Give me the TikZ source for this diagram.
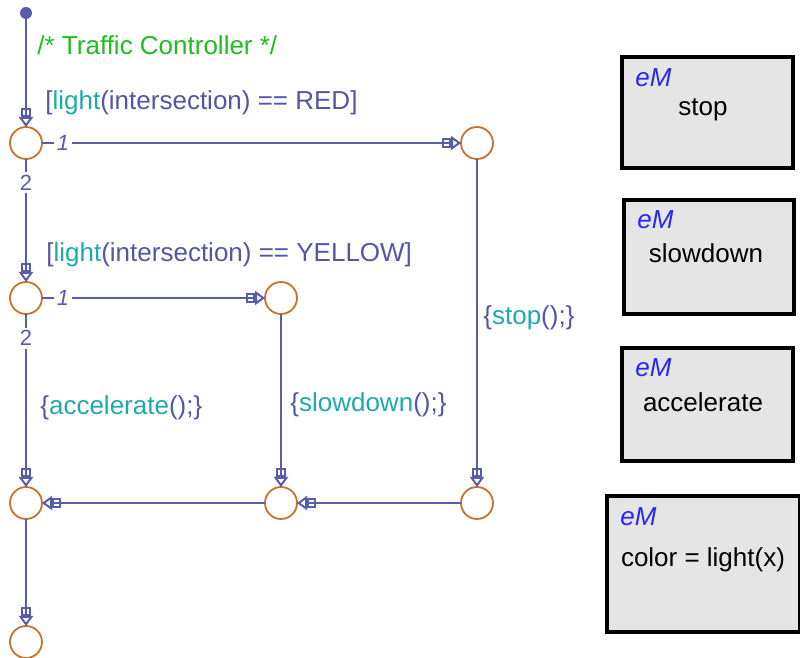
\documentclass[tikz,border=0pt]{standalone}
\usepackage{fontspec}
\setmainfont{Liberation Sans}
\usepackage{xcolor}
\usetikzlibrary{positioning, arrows.meta}

\definecolor{flowline}{RGB}{88,92,170}
\definecolor{juncorange}{RGB}{200,115,45}
\definecolor{commentgreen}{RGB}{30,190,30}
\definecolor{actteal}{RGB}{30,170,170}
\definecolor{labpurple}{RGB}{85,85,165}
\definecolor{emblue}{RGB}{40,40,240}

\tikzset{
  junction/.style={circle, draw=juncorange, line width=0.9pt, minimum size=16pt, inner sep=0pt, outer sep=0pt},
  trans/.style={draw=flowline, line width=1pt,
    -{Square[open,length=4.5pt,width=5pt,sep=0pt]Triangle[open,length=5pt,width=7pt]}},
  prio/.style={fill=white, inner sep=1.5pt, text=flowline, font=\fontsize{11}{12}\selectfont},
  cond/.style={anchor=west, inner sep=0pt, text=labpurple, font=\fontsize{13}{15}\selectfont},
  emblock/.style={draw=black, line width=2.2pt, fill=black!10, anchor=north west, inner sep=0pt},
  emtag/.style={anchor=west, inner sep=0pt, text=emblue, font=\fontsize{13}{15}\selectfont\itshape},
  emtext/.style={inner sep=0pt, font=\fontsize{13}{15}\selectfont}
}

\begin{document}
\begin{tikzpicture}
            \useasboundingbox (0,0) rectangle (400pt,-329pt);

            \node[circle, fill=flowline, minimum size=6pt, inner sep=0pt] (dflt) at (13pt,-6.5pt) {};
            \node[junction] (A) at (13pt,-71.5pt) {}; %red test
            \node[junction] (B) [right=209.5pt of A] {}; %stop
            \node[junction] (C) [below=61.5pt of A] {}; %yellow test
            \node[junction] (D) [right=111.5pt of C] {}; %slowdown
            \node[junction] (E) [below=86.5pt of C] {}; %merge
            \node[junction] (F) [below=86.5pt of D] {};
            \node[junction] (G) [below=164pt of B] {};
            \node[junction] (H) [below=53.5pt of E] {}; %end

            \node[cond, text=commentgreen] (comment) at (18.5pt,-22.5pt) {/* Traffic Controller */};
            \node[cond] (redcond) at (22.5pt,-51.5pt) {[\textcolor{actteal}{light}(intersection) == RED]};
            \node[cond] (yelcond) at (23pt,-127.5pt) {[\textcolor{actteal}{light}(intersection) == YELLOW]};
            \node[cond] (accact) at (20pt,-204pt) {\{\textcolor{actteal}{accelerate}();\}};
            \node[cond] (slowact) at (145pt,-202.5pt) {\{\textcolor{actteal}{slowdown}();\}};
            \node[cond] (stopact) at (241.5pt,-159pt) {\{\textcolor{actteal}{stop}();\}};

            \path[trans]
            (dflt) edge (A)
            (A) edge node[prio, pos=0.05] {\itshape 1} (B)
            (A) edge node[prio, pos=0.19] {2} (C)
            (C) edge node[prio, pos=0.094] {\itshape 1} (D)
            (C) edge node[prio, pos=0.14] {2} (E)
            (B) edge (G)
            (D) edge (F)
            (G) edge (F)
            (F) edge (E)
            (E) edge (H);

            % eM blocks
            \node[emblock, minimum width=85.5pt, minimum height=55.5pt] (stopbox) at (310pt,-27.5pt) {};
            \node[emtag] (stoptag) at (317.5pt,-39pt) {eM};
            \node[emtext] (stopname) at (351.5pt,-55pt) {stop};

            \node[emblock, minimum width=85pt, minimum height=57pt] (slowbox) at (311pt,-99pt) {};
            \node[emtag] (slowtag) at (318.5pt,-110pt) {eM};
            \node[emtext] (slowname) at (353pt,-126.5pt) {slowdown};

            \node[emblock, minimum width=85.5pt, minimum height=56.5pt] (accbox) at (310pt,-173pt) {};
            \node[emtag] (acctag) at (317.5pt,-184pt) {eM};
            \node[emtext] (accname) at (351.5pt,-201pt) {accelerate};

            \node[emblock, minimum width=96.5pt, minimum height=68pt] (colbox) at (302.5pt,-247pt) {};
            \node[emtag] (coltag) at (310pt,-258.5pt) {eM};
            \node[emtext] (colname) at (351.5pt,-280pt) {color = light(x)};

\end{tikzpicture}
\end{document}
